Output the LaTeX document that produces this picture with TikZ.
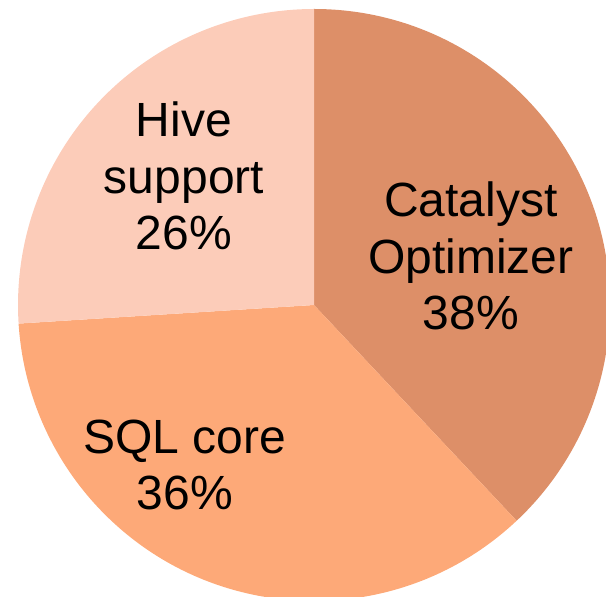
\documentclass[tikz,border=0pt]{standalone}
\usepackage{fontspec}
\setmainfont{Liberation Sans}
\usepackage{tikz}
\usetikzlibrary{calc}
\usepackage{xcolor}
\definecolor{catalyst}{RGB}{221,143,104}
\definecolor{sqlcore}{RGB}{253,169,120}
\definecolor{hive}{RGB}{252,204,185}

\begin{document}
\begin{tikzpicture}[x=1pt,y=1pt]

		\clip (0,0) rectangle (606,597);
		\tikzset{etiquette/.style={inner sep=0pt, align=center, anchor=base, font=\fontsize{48}{56.8}\selectfont}}
		\coordinate (C) at (314,292);

    \fill[catalyst] (C) -- ++(90:296) arc (90:-46.8:296) -- cycle;
    \fill[sqlcore] (C) -- ++(-46.8:296) arc (-46.8:-176.4:296) -- cycle;
    \fill[hive] (C) -- ++(-176.4:296) arc (-176.4:-270:296) -- cycle;

		\node[etiquette] (H) at (184,347) {Hive\\support\\26\%};
		\node[etiquette] (K) at (471,267) {Catalyst\\Optimizer\\38\%};
		\node[etiquette] (S) at (185,87) {SQL core\\36\%};

		\end{tikzpicture}
\end{document}
